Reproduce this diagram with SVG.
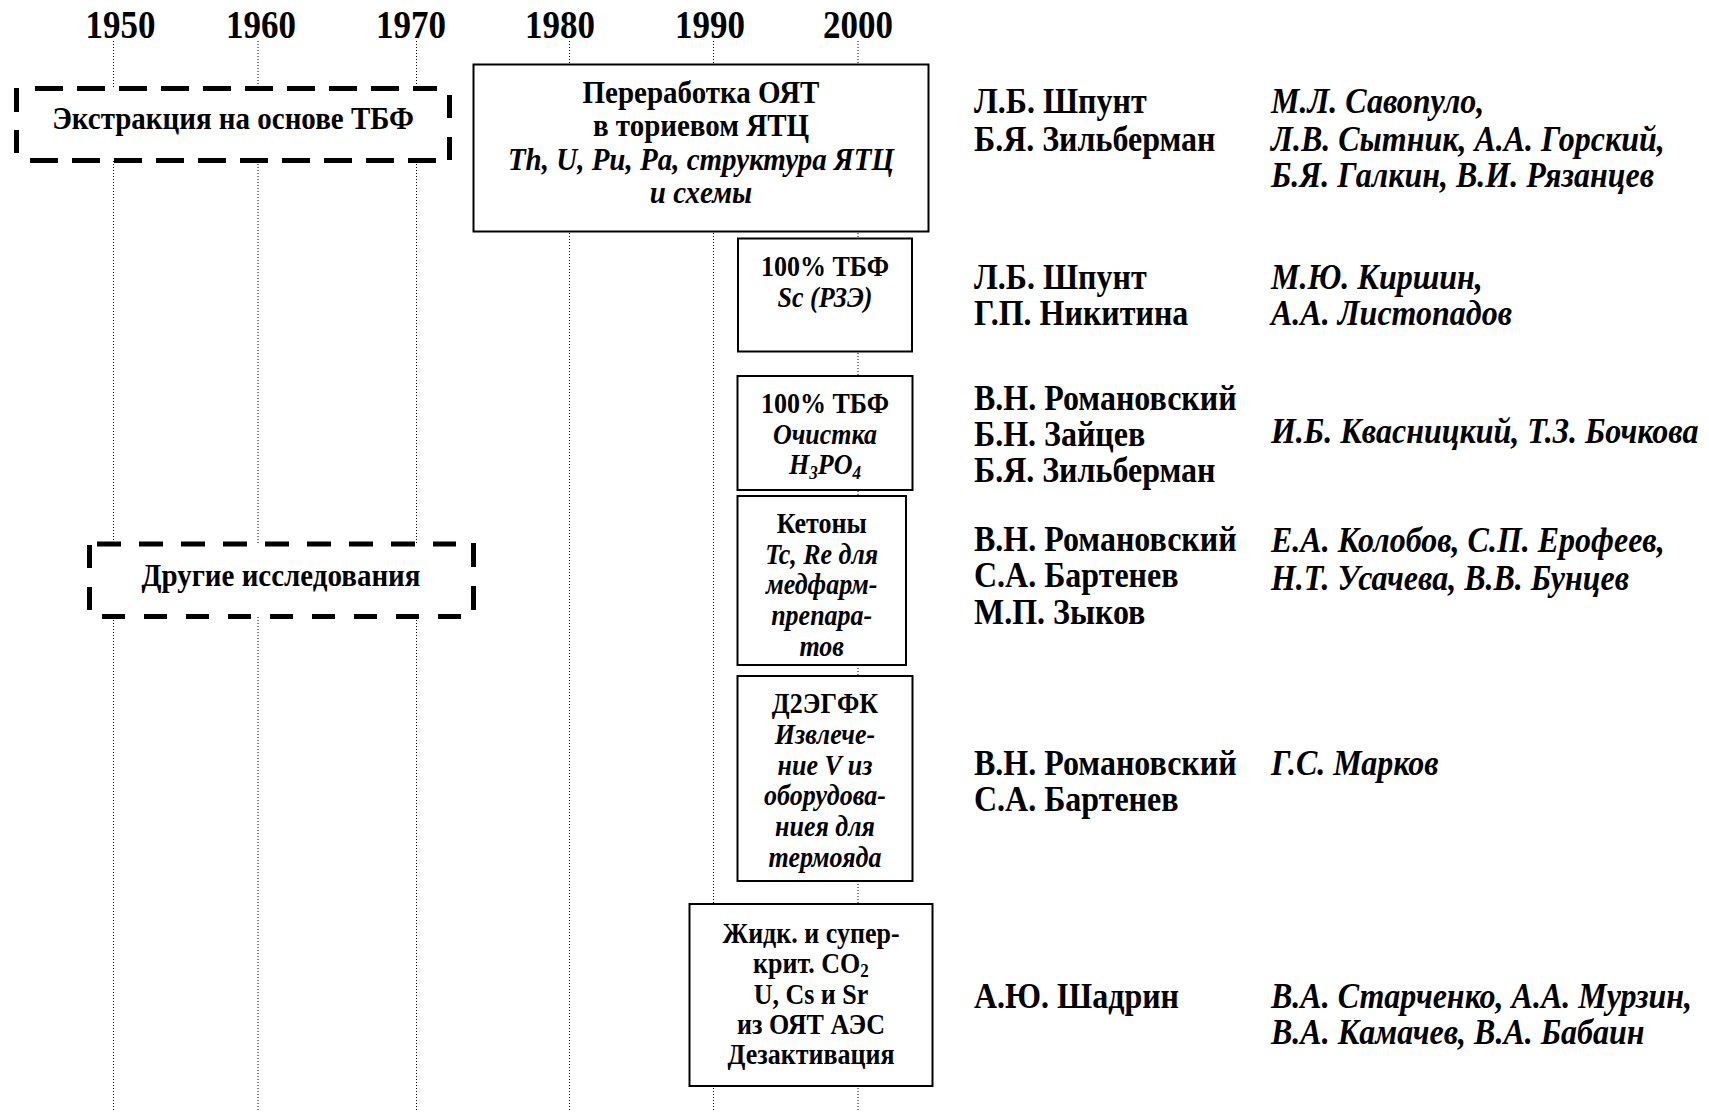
<svg xmlns="http://www.w3.org/2000/svg" width="1709" height="1112" viewBox="0 0 1709 1112">
<style>
text{font-family:"Liberation Serif","Times New Roman",serif;font-weight:bold;fill:#000;transform-box:fill-box;transform-origin:50% 100%;transform:translateY(2px) scaleY(1.1)}
.yr{font-size:35px;text-anchor:middle;transform:translateY(1px) scaleY(1.16)}
.bx{font-size:26px;text-anchor:middle}
.bb{font-size:29px;text-anchor:middle}
.dl{font-size:29px;text-anchor:middle}
.nm{font-size:32px}
.it{font-style:italic}
.grid{stroke:#000;stroke-width:1;stroke-dasharray:1 2;fill:none}
.box{fill:#fff;stroke:#000;stroke-width:2}
.dash{stroke:#000;stroke-width:5;fill:none}
.sub{font-size:17px}
</style>
<rect width="1709" height="1112" fill="#fff"/>
<g id="axis">
<text class="yr" x="120.5" y="38">1950</text>
<text class="yr" x="261" y="38">1960</text>
<text class="yr" x="411" y="38">1970</text>
<text class="yr" x="560" y="38">1980</text>
<text class="yr" x="710" y="38">1990</text>
<text class="yr" x="858" y="38">2000</text>
</g>
<g id="connectors">
<line class="grid" x1="113.5" y1="41" x2="113.5" y2="1112"/>
<line class="grid" x1="258" y1="41" x2="258" y2="1112"/>
<line class="grid" x1="416.5" y1="41" x2="416.5" y2="1112"/>
<line class="grid" x1="569.5" y1="41" x2="569.5" y2="1112"/>
<line class="grid" x1="713.5" y1="41" x2="713.5" y2="1112"/>
<line class="grid" x1="858" y1="41" x2="858" y2="1112"/>
</g>
<g id="n-tbf">
<rect x="17" y="88" width="433" height="73" fill="#fff"/>
<line class="dash" x1="35" y1="88.5" x2="437" y2="88.5" stroke-dasharray="28 14"/>
<line class="dash" x1="30" y1="160.5" x2="442" y2="160.5" stroke-dasharray="28 14"/>
<line class="dash" x1="16.5" y1="88" x2="16.5" y2="153" stroke-dasharray="24 18"/>
<line class="dash" x1="449.5" y1="95" x2="449.5" y2="160" stroke-dasharray="23 19"/>
<text class="dl" x="233" y="128">Экстракция на основе ТБФ</text>
</g>
<g id="n-other">
<rect x="89" y="544" width="385" height="73" fill="#fff"/>
<line class="dash" x1="97" y1="544" x2="456" y2="544" stroke-dasharray="24 18"/>
<line class="dash" x1="102" y1="616.5" x2="462" y2="616.5" stroke-dasharray="23 19"/>
<line class="dash" x1="89.5" y1="545" x2="89.5" y2="610" stroke-dasharray="23 19"/>
<line class="dash" x1="473.5" y1="543" x2="473.5" y2="610" stroke-dasharray="24 19"/>
<text class="dl" x="281" y="585">Другие исследования</text>
</g>
<g id="n-thorium">
<rect class="box" x="473.5" y="64.5" width="455" height="167"/>
<text class="bb" x="701" y="102">Переработка ОЯТ</text>
<text class="bb" x="701" y="135">в ториевом ЯТЦ</text>
<text class="bb it" x="701" y="168.5">Th, U, Pu, Pa, структура ЯТЦ</text>
<text class="bb it" x="701" y="202">и схемы</text>
</g>
<g id="n-sc">
<rect class="box" x="738" y="238.5" width="174" height="113"/>
<text class="bx" x="825" y="275">100% ТБФ</text>
<text class="bx it" x="825" y="306">Sc (РЗЭ)</text>
</g>
<g id="n-h3po4">
<rect class="box" x="737.5" y="376" width="175" height="114"/>
<text class="bx" x="825" y="412">100% ТБФ</text>
<text class="bx it" x="825" y="443">Очистка</text>
<text class="bx it" x="825" y="473">H<tspan class="sub" dy="4">3</tspan><tspan dy="-4">PO</tspan><tspan class="sub" dy="4">4</tspan></text>
</g>
<g id="n-ketones">
<rect class="box" x="737.5" y="496" width="168.5" height="169"/>
<text class="bx" x="821.7" y="532">Кетоны</text>
<text class="bx it" x="821.7" y="562.5">Tc, Re для</text>
<text class="bx it" x="821.7" y="593">медфарм-</text>
<text class="bx it" x="821.7" y="624">препара-</text>
<text class="bx it" x="821.7" y="655">тов</text>
</g>
<g id="n-d2egfk">
<rect class="box" x="737.5" y="676" width="175" height="205"/>
<text class="bx" x="825" y="712">Д2ЭГФК</text>
<text class="bx it" x="825" y="743">Извлече-</text>
<text class="bx it" x="825" y="773.5">ние V из</text>
<text class="bx it" x="825" y="804">оборудова-</text>
<text class="bx it" x="825" y="835">ниея для</text>
<text class="bx it" x="825" y="866">термояда</text>
</g>
<g id="n-co2">
<rect class="box" x="689.5" y="904" width="243" height="182"/>
<text class="bx" x="811" y="942">Жидк. и супер-</text>
<text class="bx" x="811" y="972">крит. CO<tspan class="sub" dy="3">2</tspan></text>
<text class="bx" x="811" y="1002.5">U, Cs и Sr</text>
<text class="bx" x="811" y="1033">из ОЯТ АЭС</text>
<text class="bx" x="811" y="1063">Дезактивация</text>
</g>
<g id="names">
<text class="nm" x="974" y="112">Л.Б. Шпунт</text>
<text class="nm" x="974" y="150">Б.Я. Зильберман</text>
<text class="nm it" x="1271" y="112">М.Л. Савопуло,</text>
<text class="nm it" x="1271" y="150">Л.В. Сытник, А.А. Горский,</text>
<text class="nm it" x="1271" y="186">Б.Я. Галкин, В.И. Рязанцев</text>
<text class="nm" x="974" y="288">Л.Б. Шпунт</text>
<text class="nm" x="974" y="324">Г.П. Никитина</text>
<text class="nm it" x="1271" y="288">М.Ю. Киршин,</text>
<text class="nm it" x="1271" y="324">А.А. Листопадов</text>
<text class="nm" x="974" y="409">В.Н. Романовский</text>
<text class="nm" x="974" y="445">Б.Н. Зайцев</text>
<text class="nm" x="974" y="481">Б.Я. Зильберман</text>
<text class="nm it" x="1271" y="442">И.Б. Квасницкий, Т.З. Бочкова</text>
<text class="nm" x="974" y="550">В.Н. Романовский</text>
<text class="nm" x="974" y="586">С.А. Бартенев</text>
<text class="nm" x="974" y="623">М.П. Зыков</text>
<text class="nm it" x="1271" y="551">Е.А. Колобов, С.П. Ерофеев,</text>
<text class="nm it" x="1271" y="589">Н.Т. Усачева, В.В. Бунцев</text>
<text class="nm" x="974" y="774">В.Н. Романовский</text>
<text class="nm" x="974" y="810">С.А. Бартенев</text>
<text class="nm it" x="1271" y="774">Г.С. Марков</text>
<text class="nm" x="974" y="1007">А.Ю. Шадрин</text>
<text class="nm it" x="1271" y="1007">В.А. Старченко, А.А. Мурзин,</text>
<text class="nm it" x="1271" y="1043">В.А. Камачев, В.А. Бабаин</text>
</g>
</svg>
